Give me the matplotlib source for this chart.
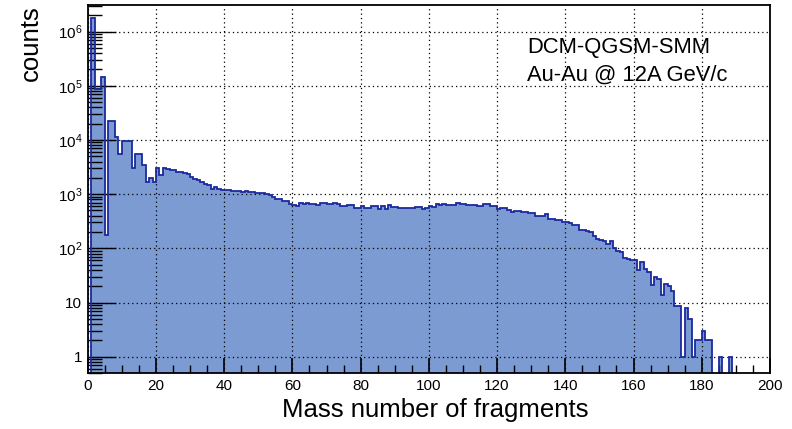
import numpy as np
import matplotlib
matplotlib.use("Agg")
import matplotlib.pyplot as plt
from matplotlib.ticker import LogLocator, NullFormatter, MultipleLocator

plt.rcParams['font.family'] = ['Liberation Sans', 'DejaVu Sans']
plt.rcParams['mathtext.fontset'] = 'custom'
plt.rcParams['mathtext.rm'] = 'Liberation Sans'
plt.rcParams['mathtext.it'] = 'Liberation Sans:italic'

# bin edges: width 1, from 0 to 200
bin_lo, bin_hi = 0, 200

# counts per mass number bin
counts_0_19 = [0, 1.8e6, 8.7e4, 8.7e4, 1.45e5, 180, 2.2e4, 2.2e4, 1.12e4, 5.4e3,
               9.4e3, 9.4e3, 9.4e3, 3.0e3, 5.6e3, 5.6e3, 3.5e3, 1.7e3, 2.0e3, 1.7e3]
counts_20_59 = [3.1e3, 2.3e3, 3.1e3, 2.9e3, 2.8e3, 2.75e3, 2.6e3, 2.55e3, 2.5e3, 2.4e3,
                2.1e3, 1.9e3, 1.8e3, 1.65e3, 1.55e3, 1.45e3, 1.26e3, 1.35e3, 1.22e3, 1.2e3,
                1.2e3, 1.18e3, 1.12e3, 1.13e3, 1.12e3, 1.11e3, 1.12e3, 1.1e3, 1.08e3, 1.05e3,
                1.05e3, 1.04e3, 1.0e3, 950, 900, 820, 800, 760, 740, 660]
counts_60_99 = [640, 600, 680, 650, 700, 650, 660, 640, 690, 700,
                650, 670, 680, 660, 600, 610, 620, 630, 550, 560,
                600, 560, 550, 600, 600, 540, 600, 540, 630, 580,
                580, 560, 560, 550, 560, 560, 580, 590, 540, 550]
counts_100_139 = [600, 580, 650, 640, 660, 620, 630, 620, 680, 670,
                  650, 630, 640, 630, 600, 610, 650, 660, 610, 600,
                  540, 560, 560, 520, 460, 480, 480, 470, 470, 440,
                  440, 390, 390, 390, 430, 350, 350, 330, 330, 310]
counts_140_199 = [300, 290, 270, 270, 220, 220, 210, 200, 166, 150,
                  145, 135, 122, 135, 102, 91, 85, 65, 63, 60,
                  60, 39, 57, 41, 37, 21, 29, 27, 14, 22,
                  20, 16, 8.7, 8.7, 1, 8, 5, 1, 2, 2,
                  3, 2, 2, 0, 0, 1, 0, 0, 1, 0,
                  0, 0, 0, 0, 0, 0, 0, 0, 0, 0]

counts = np.array(counts_0_19 + counts_20_59 + counts_60_99 + counts_100_139 + counts_140_199, dtype=float)
edges = np.arange(bin_lo, bin_hi + 1, 1)

y_min, y_max = 0.5, 3.1e6
floor = 0.05
shown = np.where(counts > 0, counts, floor)

fill_color = '#7b9bd2'
line_color = '#1c2a9e'

fig = plt.figure(figsize=(7.92, 4.29), dpi=100)
ax = fig.add_axes([87.7/792, 1 - 373/429, (770 - 87.7)/792, (373 - 5)/429])

ax.set_yscale('log')
ax.set_xlim(0, 200)
ax.set_ylim(y_min, y_max)

# filled histogram body (no edge) + step outline
ax.fill_between(edges, np.append(shown, shown[-1]), floor, step='post',
                facecolor=fill_color, edgecolor='none', linewidth=0, zorder=1)
ax.stairs(shown, edges, baseline=None, fill=False, color=line_color, lw=1.3, zorder=3)

# grid
ax.grid(True, which='major', color='black', linestyle=(0, (1, 2.5)), linewidth=0.9, zorder=2)
ax.set_axisbelow(False)

# ticks
ax.xaxis.set_major_locator(MultipleLocator(20))
ax.xaxis.set_minor_locator(MultipleLocator(5))
ax.yaxis.set_minor_locator(LogLocator(base=10, subs=np.arange(2, 10), numticks=20))
ax.yaxis.set_minor_formatter(NullFormatter())

ytick_vals = [1, 10, 1e2, 1e3, 1e4, 1e5, 1e6]
ytick_labels = ['1', '10', r'$10^{2}$', r'$10^{3}$', r'$10^{4}$', r'$10^{5}$', r'$10^{6}$']
ax.set_yticks(ytick_vals)
ax.set_yticklabels(ytick_labels)

ax.tick_params(axis='both', which='both', direction='in', top=False, right=False, colors='black')
ax.tick_params(axis='x', which='major', length=11, width=1.2, labelsize=11, pad=4)
ax.tick_params(axis='x', which='minor', length=5.5, width=1.0)
ax.tick_params(axis='y', which='major', length=20, width=1.0, labelsize=11, pad=4)
ax.tick_params(axis='y', which='minor', length=10, width=1.0)

for sp in ax.spines.values():
    sp.set_linewidth(1.3)
    sp.set_color('black')
    sp.set_zorder(5)

# axis titles
fig.text(31/792, 1 - 43/429, 'counts', rotation=90, ha='center', va='center', fontsize=18.5)
fig.text(435/792, 1 - 410/429, 'Mass number of fragments', ha='center', va='center', fontsize=18.5)

# annotation
fig.text(527/792, 1 - 47/429, 'DCM-QGSM-SMM', ha='left', va='center', fontsize=15.8)
fig.text(527/792, 1 - 75/429, 'Au-Au @ 12A GeV/c', ha='left', va='center', fontsize=15.8)

fig.savefig('out.png', dpi=100)
